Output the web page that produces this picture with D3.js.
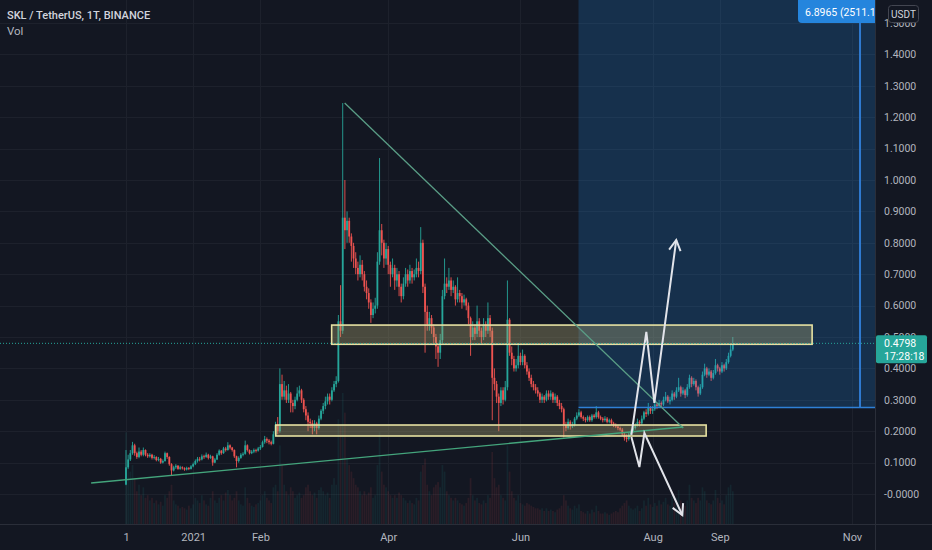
<!DOCTYPE html>
<html><head><meta charset="utf-8">
<script src="https://cdn.jsdelivr.net/npm/d3@7"></script>
<style>html,body{margin:0;padding:0;background:#131722;overflow:hidden}</style>
</head><body><svg id="c" width="932" height="550"></svg>
<script>
const startDate = "2020-12-01";
const firstOpen = 0.03;
const closes = [
.085,.11,.13,.155,.13,.118,.135,.125,.14,.125,
.12,.125,.115,.118,.108,.112,.1,.105,.13,.118,
.095,.075,.085,.09,.08,.085,.082,.078,.083,.08,
.088,.095,.105,.112,.11,.12,.118,.125,.115,.12,
.1,.11,.125,.138,.13,.145,.14,.155,.148,.14,
.12,.105,.115,.125,.128,.155,.14,.13,.135,.14,
.138,.145,.15,.165,.175,.17,.165,.16,.19,.22,
.2,.35,.31,.33,.3,.32,.29,.28,.3,.32,
.33,.3,.27,.25,.23,.225,.21,.225,.21,.24,
.265,.28,.295,.31,.3,.33,.35,.36,.55,.52,
.88,.84,.87,.82,.79,.75,.72,.7,.73,.7,
.66,.64,.61,.57,.59,.6,.74,.84,.8,.75,
.78,.73,.7,.72,.68,.7,.66,.63,.67,.7,
.68,.71,.69,.7,.72,.71,.8,.66,.58,.54,
.56,.53,.5,.47,.45,.49,.63,.67,.66,.68,
.65,.66,.62,.64,.63,.61,.62,.6,.56,.5,
.53,.51,.55,.52,.5,.54,.52,.56,.52,.37,
.35,.31,.29,.33,.3,.34,.555,.45,.43,.4,
.41,.44,.42,.44,.41,.39,.37,.35,.34,.33,
.32,.3,.31,.3,.32,.31,.32,.3,.31,.29,
.28,.27,.22,.21,.23,.215,.22,.24,.25,.26,
.245,.24,.235,.245,.235,.25,.245,.26,.245,.24,
.235,.24,.23,.235,.225,.22,.215,.21,.205,.19,
.18,.175,.19,.2,.21,.22,.23,.225,.24,.26,
.255,.275,.265,.27,.285,.28,.29,.285,.3,.31,
.295,.3,.32,.31,.33,.34,.32,.33,.315,.34,
.37,.35,.36,.34,.32,.34,.38,.4,.38,.39,
.37,.385,.41,.4,.39,.41,.4,.42,.44,.46,.4798];
const highs = [
.14,.125,.14,.166,.16,.135,.148,.14,.148,.142,
.13,.13,.128,.124,.12,.118,.115,.11,.135,.132,
.12,.098,.09,.095,.092,.09,.088,.085,.087,.086,
.092,.1,.11,.118,.118,.126,.125,.132,.128,.125,
.122,.115,.13,.142,.14,.15,.15,.165,.158,.15,
.142,.122,.12,.13,.133,.17,.158,.142,.14,.145,
.144,.15,.156,.17,.185,.18,.175,.17,.2,.23,
.245,.40,.38,.36,.345,.35,.325,.3,.31,.34,
.345,.335,.305,.28,.26,.24,.235,.235,.23,.25,
.27,.29,.31,.32,.32,.34,.36,.375,.57,.665,
1.245,1.0,.9,.88,.83,.8,.77,.74,.76,.745,
.71,.68,.655,.62,.61,.625,.77,1.07,.86,.81,
.8,.79,.74,.75,.73,.72,.71,.67,.69,.72,
.715,.73,.72,.715,.75,.74,.85,.81,.67,.6,
.58,.57,.54,.51,.48,.51,.65,.75,.69,.72,
.69,.68,.665,.69,.65,.64,.635,.625,.61,.565,
.55,.54,.6,.56,.53,.56,.55,.61,.57,.53,
.4,.36,.32,.34,.34,.36,.68,.56,.47,.44,
.43,.48,.45,.46,.445,.42,.4,.38,.36,.35,
.34,.325,.32,.315,.33,.33,.33,.325,.32,.315,
.3,.29,.275,.23,.24,.235,.23,.245,.26,.27,
.265,.25,.245,.25,.25,.255,.255,.28,.265,.25,
.245,.248,.245,.24,.24,.23,.225,.22,.215,.21,
.195,.19,.195,.205,.215,.225,.24,.235,.25,.265,
.27,.29,.28,.28,.295,.29,.3,.295,.31,.325,
.315,.31,.33,.325,.34,.37,.345,.34,.335,.35,
.38,.375,.37,.365,.345,.35,.39,.415,.405,.4,
.395,.395,.43,.415,.405,.42,.415,.43,.45,.475,.50];
const lows = [
.028,.08,.105,.125,.122,.112,.114,.12,.12,.12,
.115,.116,.11,.11,.104,.104,.096,.097,.103,.112,
.09,.06,.072,.08,.077,.077,.078,.074,.075,.076,
.078,.085,.092,.1,.104,.107,.112,.115,.11,.112,
.09,.098,.108,.122,.125,.128,.135,.138,.142,.135,
.115,.085,.1,.112,.12,.125,.135,.126,.127,.13,
.132,.135,.14,.148,.16,.162,.158,.155,.158,.185,
.19,.195,.3,.3,.29,.29,.26,.26,.27,.295,
.31,.29,.26,.235,.2,.21,.19,.2,.19,.205,
.235,.255,.27,.285,.285,.295,.325,.34,.355,.5,
.51,.78,.8,.8,.74,.72,.7,.68,.69,.68,
.645,.62,.59,.545,.56,.575,.59,.73,.76,.72,
.73,.7,.66,.69,.65,.66,.63,.61,.62,.66,
.66,.67,.67,.68,.69,.69,.7,.64,.45,.52,
.52,.51,.48,.43,.405,.43,.48,.62,.64,.65,
.63,.64,.6,.61,.61,.59,.6,.585,.54,.44,
.49,.49,.5,.5,.48,.49,.5,.51,.5,.235,
.33,.29,.2,.28,.285,.295,.33,.44,.41,.39,
.39,.4,.41,.41,.4,.38,.36,.34,.33,.32,
.31,.29,.29,.29,.295,.3,.3,.29,.29,.28,
.27,.26,.18,.2,.205,.205,.21,.215,.235,.245,
.24,.232,.228,.23,.23,.23,.24,.24,.24,.235,
.228,.23,.225,.225,.22,.213,.21,.203,.2,.185,
.17,.165,.17,.185,.195,.205,.215,.215,.22,.235,
.245,.25,.255,.255,.265,.27,.275,.275,.28,.295,
.29,.285,.295,.3,.305,.325,.31,.315,.305,.31,
.335,.34,.345,.33,.31,.315,.335,.375,.37,.375,
.36,.365,.38,.39,.38,.385,.39,.395,.415,.435,.455];
const volumes = [
70,45,40,45,35,25,30,22,28,20,22,
18,20,16,18,15,17,14,22,20,25,
30,18,15,14,12,13,12,11,14,12,
15,20,18,16,22,18,15,14,20,25,18,16,20,22,18,24,26,22,18,20,25,18,15,14,28,20,16,14,13,15,16,
18,22,25,20,18,16,28,30,25,60,45,30,25,22,28,25,20,22,24,20,22,28,30,25,22,24,20,26,
28,25,22,24,20,30,35,30,80,75,
100,85,50,45,40,35,30,28,25,22,
25,22,24,28,20,22,45,70,40,30,
28,25,22,20,22,20,24,22,20,18,
16,18,16,15,20,18,40,45,50,30,
25,22,28,30,32,28,45,40,25,22,
20,18,20,18,16,15,14,16,20,35,
22,18,20,16,15,18,16,22,20,55,
35,28,30,22,20,18,60,40,25,20,
18,22,16,15,14,16,15,14,13,12,
12,11,12,10,12,10,11,10,9,11,
12,14,22,18,14,12,11,14,12,15,
10,9,8,10,8,11,9,14,10,8,
8,9,8,7,8,9,10,9,12,14,
16,18,14,12,11,12,14,10,12,18,
14,20,15,13,16,14,18,15,17,20,
15,14,22,16,20,26,18,15,14,18,
30,20,18,16,20,18,28,25,18,16,
15,18,26,20,16,18,15,22,28,30,25];
const timeTicks = ["2020-12-01","2021-01-01","2021-02-01","2021-04-01","2021-06-01","2021-08-01","2021-09-01","2021-11-01"];
const timeTickLabels = ["1","2021","Feb","Apr","Jun","Aug","Sep","Nov"];
const priceTicks = [0,0.1,0.2,0.3,0.4,0.5,0.6,0.7,0.8,0.9,1.0,1.1,1.2,1.3,1.4,1.5];
const priceTickLabels = ["-0.0000","0.1000","0.2000","0.3000","0.4000","0.5000","0.6000","0.7000","0.8000","0.9000","1.0000","1.1000","1.2000","1.3000","1.4000","1.5000"];
// drawings (day offset from start, price)
const zoneTop = [[94.9,0.538],[316.6,0.4768]];
const zoneBottom = [[69.1,0.2197],[267.7,0.1847]];
const triTop = [[100.9,1.245],[257.1,0.210]];
const triBottom = [[-16.1,0.035],[257.1,0.2134]];
const arrowUp = [[233.2,0.188],[240.1,0.516],[243.8,0.290],[253.9,0.809]];
const arrowDown = [[233.2,0.1815],[236.9,0.086],[239.2,0.194],[256.7,-0.067]];
const longPos = {startDay:208.8, endDay:338.7, entry:0.2757, target:6.8965, label:"6.8965 (2511.12%)"};
const lastPrice = 0.4798, lastLabel = "0.4798", countdown = "17:28:18";
const title = "SKL / TetherUS, 1T, BINANCE";

const W=932,H=550,PR=875,PB=524;
const DAY=86400000;
const t0 = new Date(startDate+"T00:00:00Z");
const dayDate = d => new Date(t0.getTime()+d*DAY);
const x = d3.scaleUtc().domain([t0,new Date("2021-11-01T00:00:00Z")]).range([126,852]);
const y = d3.scaleLinear().domain([0,1.5]).range([494,23]);
const yv = d3.scaleLinear().domain([0,100]).range([PB,393]);
const X = d => x(dayDate(d));

const svg = d3.select("#c");
svg.append("rect").attr("width",W).attr("height",H).attr("fill","#131722");
svg.append("defs").append("clipPath").attr("id","plot").append("rect").attr("width",PR).attr("height",PB);
const grid = svg.append("g");
grid.selectAll("line.h").data(priceTicks).join("line").attr("x1",0).attr("x2",PR)
  .attr("y1",d=>Math.round(y(d))+0.5).attr("y2",d=>Math.round(y(d))+0.5).attr("stroke","#1d212c");
grid.selectAll("line.v").data(timeTicks).join("line")
  .attr("x1",d=>Math.round(x(new Date(d+"T00:00:00Z")))+0.5).attr("x2",d=>Math.round(x(new Date(d+"T00:00:00Z")))+0.5)
  .attr("y1",0).attr("y2",PB).attr("stroke","#1d212c");

const plot = svg.append("g").attr("clip-path","url(#plot)");
const candles = closes.map((c,i)=>({i,o:i?closes[i-1]:firstOpen,c,h:highs[i],l:lows[i],v:volumes[i]}));
const up="#26a69a",dn="#ef5350";
plot.append("g").selectAll("rect").data(candles).join("rect")
  .attr("x",d=>X(d.i)-0.85).attr("width",1.7).attr("y",d=>yv(d.v)).attr("height",d=>PB-yv(d.v))
  .attr("fill",d=>d.c>=d.o?"rgba(38,166,154,0.11)":"rgba(239,83,80,0.11)");
const cg = plot.append("g");
cg.selectAll("line").data(candles).join("line")
  .attr("x1",d=>X(d.i)).attr("x2",d=>X(d.i)).attr("y1",d=>y(d.h)).attr("y2",d=>y(d.l))
  .attr("stroke",d=>d.c>=d.o?up:dn).attr("stroke-width",0.9);
cg.selectAll("rect").data(candles).join("rect")
  .attr("x",d=>X(d.i)-0.9).attr("width",1.8)
  .attr("y",d=>y(Math.max(d.o,d.c))).attr("height",d=>Math.max(0.8,Math.abs(y(d.o)-y(d.c))))
  .attr("fill",d=>d.c>=d.o?up:dn);

// long position
const lpX1=X(longPos.startDay), lpX2=X(longPos.endDay);
plot.append("rect").attr("x",lpX1).attr("y",y(longPos.target)).attr("width",PR-lpX1).attr("height",y(longPos.entry)-y(longPos.target))
  .attr("fill","rgba(33,150,243,0.2)");
plot.append("line").attr("x1",lpX1).attr("x2",PR).attr("y1",y(longPos.entry)).attr("y2",y(longPos.entry)).attr("stroke","#2f80d6").attr("stroke-width",1.5);
plot.append("line").attr("x1",lpX2).attr("x2",lpX2).attr("y1",0).attr("y2",y(longPos.entry)).attr("stroke","#2f7ad0").attr("stroke-width",2);

// zones
[zoneTop,zoneBottom].forEach(z=>{
  plot.append("rect").attr("x",X(z[0][0])).attr("y",y(z[0][1])).attr("width",X(z[1][0])-X(z[0][0])).attr("height",y(z[1][1])-y(z[0][1]))
   .attr("fill","rgba(179,169,114,0.35)").attr("stroke","#e6e1a2").attr("stroke-width",1.6);
});
// triangle lines
const ln = d3.line().x(p=>X(p[0])).y(p=>y(p[1]));
plot.append("path").attr("d",ln(triTop)).attr("fill","none").attr("stroke","#5a9e86").attr("stroke-width",1.3);
plot.append("path").attr("d",ln(triBottom)).attr("fill","none").attr("stroke","#44a57c").attr("stroke-width",1.4);
// arrows
[arrowUp,arrowDown].forEach(a=>{
  plot.append("path").attr("d",ln(a)).attr("fill","none").attr("stroke","#e2e4ea").attr("stroke-width",2).attr("stroke-linejoin","miter");
  const p1=a[a.length-2],p2=a[a.length-1];
  const x1=X(p1[0]),y1=y(p1[1]),x2=X(p2[0]),y2=y(p2[1]);
  const ang=Math.atan2(y2-y1,x2-x1), L=12, s=0.5;
  const pa=[x2-L*Math.cos(ang-s),y2-L*Math.sin(ang-s)], pb=[x2-L*Math.cos(ang+s),y2-L*Math.sin(ang+s)];
  plot.append("path").attr("d",`M${pa[0]},${pa[1]}L${x2},${y2}L${pb[0]},${pb[1]}`).attr("fill","none").attr("stroke","#e2e4ea").attr("stroke-width",2);
});
// last price line
plot.append("line").attr("x1",0).attr("x2",PR).attr("y1",y(lastPrice)).attr("y2",y(lastPrice))
  .attr("stroke","#26a69a").attr("stroke-dasharray","1,2").attr("stroke-width",1);

// axes
svg.append("line").attr("x1",PR+0.5).attr("x2",PR+0.5).attr("y1",0).attr("y2",H).attr("stroke","#2a2e39");
svg.append("line").attr("x1",0).attr("x2",W).attr("y1",PB+0.5).attr("y2",PB+0.5).attr("stroke","#2a2e39");
const font="Roboto, 'Noto Sans', sans-serif";
const ya = svg.append("g").attr("transform",`translate(${PR},0)`)
  .call(d3.axisRight(y).tickValues(priceTicks).tickFormat((d,i)=>priceTickLabels[i]).tickSize(0).tickPadding(9));
ya.select(".domain").remove();
ya.selectAll("text").attr("fill","#b2b5be").style("font-family",font).style("font-size","10.5px");
const xa = svg.append("g").attr("transform",`translate(0,${PB})`)
  .call(d3.axisBottom(x).tickValues(timeTicks.map(d=>new Date(d+"T00:00:00Z"))).tickFormat((d,i)=>timeTickLabels[i]).tickSize(0).tickPadding(9));
xa.select(".domain").remove();
xa.selectAll("text").attr("fill","#b2b5be").style("font-family",font).style("font-size","11px");

// long position label
const lg = svg.append("g");
lg.append("path").attr("d",`M${PR},0 V23 H${798+4} Q798,23 798,19 V0 Z`).attr("fill","#2585dd");
lg.append("clipPath").attr("id","lbl").append("rect").attr("x",798).attr("y",0).attr("width",PR-798).attr("height",24);
lg.append("text").attr("x",805).attr("y",16).attr("clip-path","url(#lbl)").text(longPos.label)
  .attr("fill","#ffffff").style("font-family",font).style("font-size","10.5px");
// USDT box
svg.append("rect").attr("x",888.5).attr("y",5.5).attr("width",30).attr("height",17).attr("rx",3).attr("fill","#131722").attr("stroke","#434651");
svg.append("text").attr("x",903.5).attr("y",17.5).attr("text-anchor","middle").text("USDT").attr("fill","#d1d4dc").style("font-family",font).style("font-size","10px");
// last price label
const ly=y(lastPrice);
svg.append("rect").attr("x",876).attr("y",ly-8).attr("width",51).attr("height",28).attr("rx",2).attr("fill","#26a69a");
svg.append("text").attr("x",884).attr("y",ly+4).text(lastLabel).attr("fill","#fff").style("font-family",font).style("font-size","10.5px");
svg.append("text").attr("x",884).attr("y",ly+17).text(countdown).attr("fill","#fff").style("font-family",font).style("font-size","10.5px");
// title
svg.append("text").attr("x",7).attr("y",19).text(title).attr("fill","#d1d4dc").style("font-family",font).style("font-size","11px").style("font-weight","500");
svg.append("text").attr("x",7).attr("y",35).text("Vol").attr("fill","#b2b5be").style("font-family",font).style("font-size","11.5px");
</script></body></html>
